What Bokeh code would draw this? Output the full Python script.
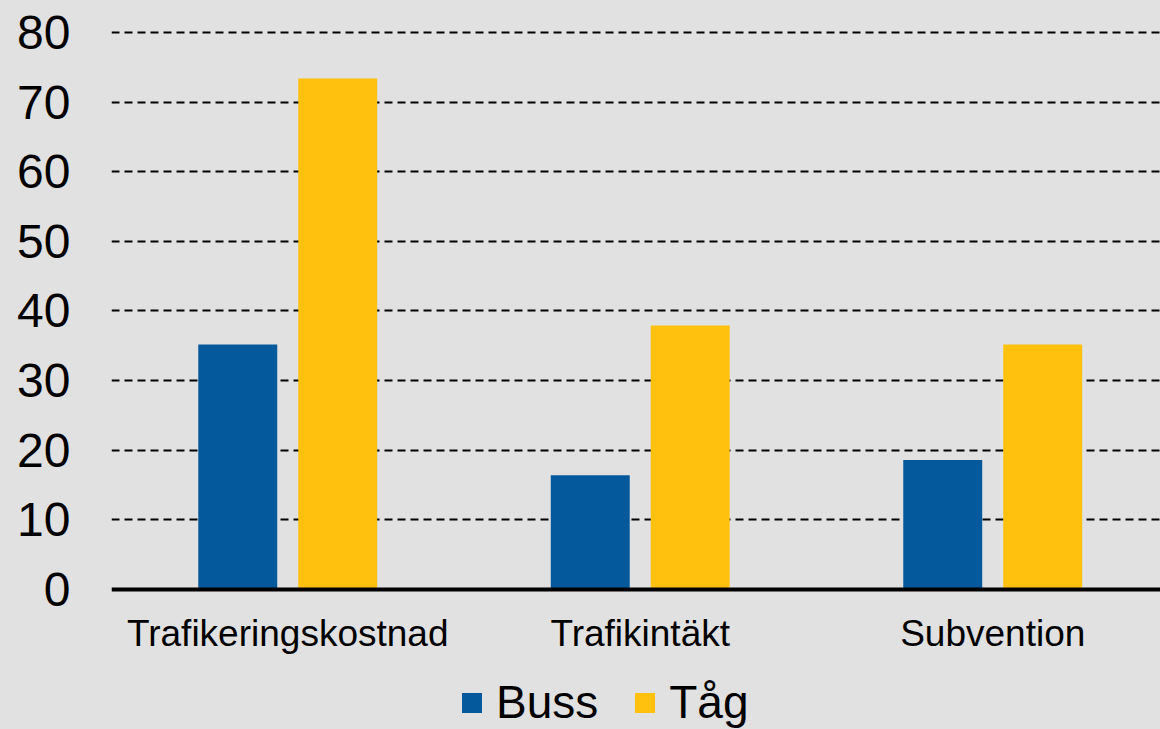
from bokeh.plotting import figure
from bokeh.models import Range1d, FixedTicker, Legend, LegendItem, ColumnDataSource
from bokeh.transform import dodge
from bokeh.embed import file_html
from bokeh.resources import INLINE

categories = ["Trafikeringskostnad", "Trafikintäkt", "Subvention"]
buss = [35.2, 16.4, 18.6]
tag = [73.4, 37.9, 35.2]
y_ticks = [0, 10, 20, 30, 40, 50, 60, 70, 80]

BG = "#e1e1e1"
BLUE = "#03599c"
YELLOW = "#ffc00e"
FONT = "Liberation Sans"

xpos = [i + 0.5 for i in range(len(categories))]
src = ColumnDataSource(dict(x=xpos, buss=buss, tag=tag))

p = figure(width=1160, height=729, output_backend="svg", toolbar_location=None,
           x_range=Range1d(0, 2.976), y_range=Range1d(-20.11, 80.43),
           min_border_left=111, min_border_right=0, min_border_top=29, min_border_bottom=0)
p.background_fill_color = BG
p.border_fill_color = BG
p.outline_line_color = None

r1 = p.vbar(x=dodge("x", -0.1418), top="buss", width=0.224, source=src,
            fill_color=BLUE, line_color=None)
r2 = p.vbar(x=dodge("x", 0.1418), top="tag", width=0.224, source=src,
            fill_color=YELLOW, line_color=None)

# grid
p.xgrid.grid_line_color = None
p.ygrid.ticker = FixedTicker(ticks=y_ticks[1:])
p.ygrid.grid_line_color = "black"
p.ygrid.grid_line_dash = "8 5"
p.ygrid.grid_line_width = 2

# y axis
p.yaxis.ticker = FixedTicker(ticks=y_ticks)
p.yaxis.axis_line_color = None
p.yaxis.major_tick_line_color = None
p.yaxis.minor_tick_line_color = None
p.yaxis.major_tick_out = 0
p.yaxis.major_tick_in = 0
p.yaxis.major_label_standoff = 41
p.yaxis.major_label_text_font = FONT
p.yaxis.major_label_text_font_size = "48px"
p.yaxis.major_label_text_color = "black"

# x axis, drawn at y = 0 inside the frame
p.xaxis.fixed_location = 0
p.xaxis.ticker = FixedTicker(ticks=xpos)
p.xaxis.major_label_overrides = {x: c for x, c in zip(xpos, categories)}
p.xaxis.axis_line_color = "black"
p.xaxis.axis_line_width = 4
p.xaxis.major_tick_line_color = None
p.xaxis.minor_tick_line_color = None
p.xaxis.major_tick_out = 0
p.xaxis.major_tick_in = 0
p.xaxis.major_label_standoff = 24
p.xaxis.major_label_text_font = FONT
p.xaxis.major_label_text_font_size = "37px"
p.xaxis.major_label_text_color = "black"

legend = Legend(items=[LegendItem(label="Buss", renderers=[r1]),
                       LegendItem(label="Tåg", renderers=[r2])],
                orientation="horizontal", location=(348, 0),
                glyph_width=25, glyph_height=25, label_standoff=12, spacing=34,
                padding=0, margin=0, border_line_color=None,
                background_fill_alpha=0,
                label_text_font=FONT, label_text_font_size="46px",
                label_text_color="black")
p.add_layout(legend, "center")

html = file_html(p, INLINE)
html = html.replace("</head>", "<style>html, body { background: %s; }</style></head>" % BG, 1)
open("out.html", "w").write(html)
